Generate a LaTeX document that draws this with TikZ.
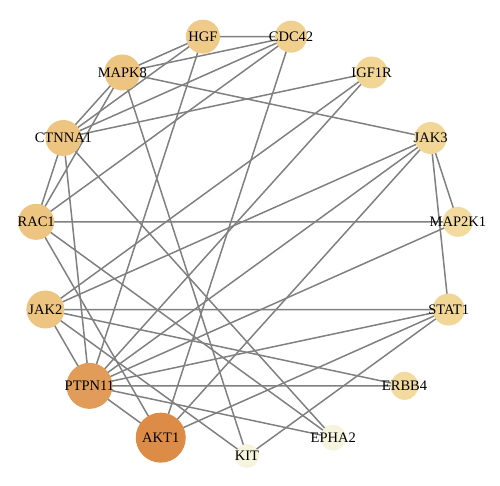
\documentclass[tikz,border=0pt]{standalone}
\usepackage{fontspec}
\setmainfont{Liberation Serif}
\usetikzlibrary{backgrounds}

\definecolor{edgegray}{RGB}{128,128,128}
\definecolor{cAKT}{RGB}{221,140,72}
\definecolor{cPTP}{RGB}{224,156,88}
\definecolor{cMid}{RGB}{237,196,128}
\definecolor{cHGF}{RGB}{239,202,136}
\definecolor{cCDC}{RGB}{240,208,142}
\definecolor{cLow}{RGB}{242,214,150}
\definecolor{cMin}{RGB}{243,219,160}
\definecolor{cPale}{RGB}{247,244,222}

\begin{document}
\begin{tikzpicture}[gene/.style = {circle, inner sep=0pt, minimum size=#1}, link/.style = {draw=edgegray, line width=1.5pt}, every label/.style = {font=\fontsize{14.5}{14.5}\selectfont, text=black, inner sep=0pt}]
    \useasboundingbox (0,0) rectangle (500pt,486pt);

    % genes on the circle
    \begin{scope}[shift={(247pt,242pt)}]
    \node[gene=24pt, fill=cPale, label=center:KIT] (kit) at (-90:212pt) {};
    \node[gene=26pt, fill=cPale, label=center:EPHA2] (epha) at (-66:212pt) {};
    \node[gene=28pt, fill=cMin, label=center:ERBB4] (erbb) at (-42:212pt) {};
    \node[gene=32pt, fill=cLow, label=center:STAT1] (stat) at (-18:212pt) {};
    \node[gene=30pt, fill=cMin, label=center:MAP2K1] (map2k) at (6:212pt) {};
    \node[gene=32pt, fill=cLow, label=center:JAK3] (jak3) at (30:212pt) {};
    \node[gene=32pt, fill=cLow, label=center:IGF1R] (igf) at (54:212pt) {};
    \node[gene=32pt, fill=cCDC, label=center:CDC42] (cdc) at (78:212pt) {};
    \node[gene=34pt, fill=cHGF, label=center:HGF] (hgf) at (102:212pt) {};
    \node[gene=36pt, fill=cMid, label=center:MAPK8] (mapk) at (126:212pt) {};
    \node[gene=36pt, fill=cMid, label=center:CTNNA1] (ctnna) at (150:212pt) {};
    \node[gene=36pt, fill=cMid, label=center:RAC1] (rac) at (174:212pt) {};
    \node[gene=38pt, fill=cMid, label=center:JAK2] (jak2) at (198:212pt) {};
    \node[gene=46pt, fill=cPTP, label=center:PTPN11] (ptpn) at (222:212pt) {};
    \node[gene=50pt, fill=cAKT, label=center:AKT1] (akt) at (246:212pt) {};
    \end{scope}

    % interactions
    \begin{scope}[on background layer]
    \draw[link] (hgf.center) -- (cdc.center) (hgf.center) -- (mapk.center) (hgf.center) -- (ctnna.center) (hgf.center) -- (ptpn.center);
    \draw[link] (cdc.center) -- (mapk.center) (cdc.center) -- (ctnna.center) (cdc.center) -- (rac.center) (cdc.center) -- (akt.center);
    \draw[link] (mapk.center) -- (jak3.center) (mapk.center) -- (ctnna.center) (mapk.center) -- (rac.center) (mapk.center) -- (kit.center);
    \draw[link] (igf.center) -- (ctnna.center) (igf.center) -- (jak2.center) (igf.center) -- (ptpn.center);
    \draw[link] (jak3.center) -- (jak2.center) (jak3.center) -- (ptpn.center) (jak3.center) -- (akt.center) (jak3.center) -- (map2k.center) (jak3.center) -- (stat.center);
    \draw[link] (rac.center) -- (map2k.center) (rac.center) -- (ctnna.center) (rac.center) -- (epha.center) (rac.center) -- (akt.center);
    \draw[link] (ctnna.center) -- (epha.center) (ctnna.center) -- (ptpn.center);
    \draw[link] (jak2.center) -- (ptpn.center) (jak2.center) -- (kit.center) (jak2.center) -- (stat.center) (jak2.center) -- (erbb.center);
    \draw[link] (ptpn.center) -- (erbb.center) (ptpn.center) -- (epha.center) (ptpn.center) -- (akt.center) (ptpn.center) -- (stat.center) (ptpn.center) -- (map2k.center);
    \draw[link] (akt.center) -- (stat.center) (kit.center) -- (stat.center);
    \end{scope}
\end{tikzpicture}
\end{document}
